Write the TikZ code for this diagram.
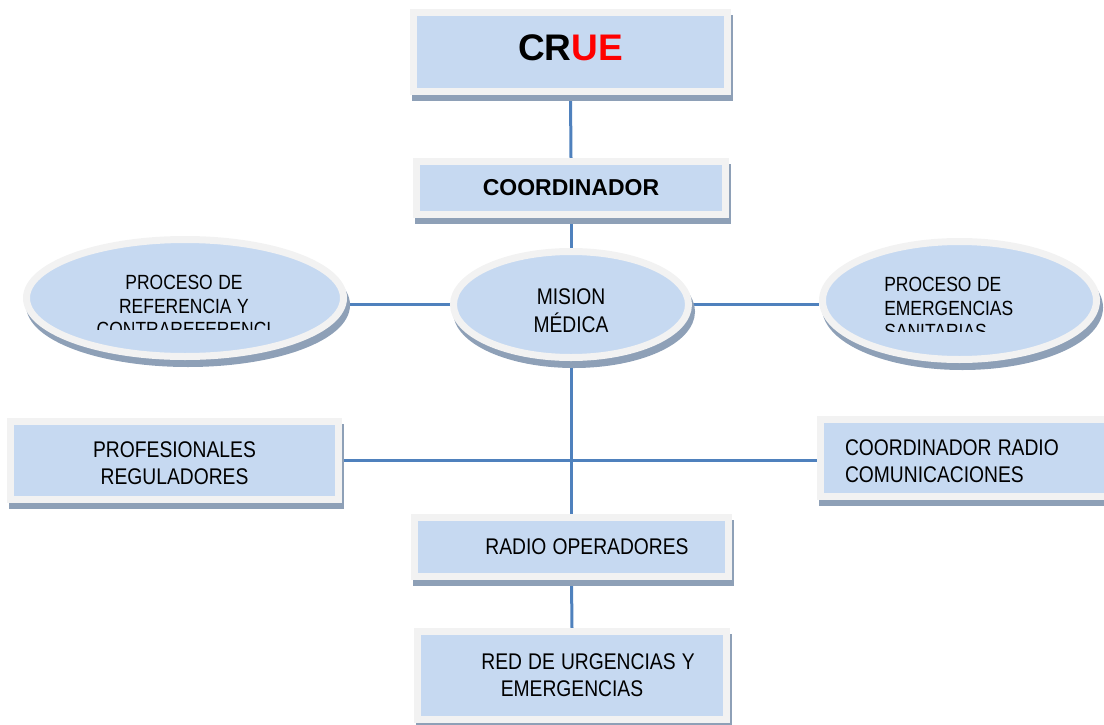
\documentclass[tikz,border=0pt]{standalone}
\usepackage{fontspec}
\setmainfont{Liberation Sans}[FakeStretch=0.85,WordSpace=1.15]
\newfontfamily\widesans{Liberation Sans}
\usetikzlibrary{shapes.geometric,shadows,backgrounds}
\definecolor{linkblue}{HTML}{4F81BD}
\definecolor{cellblue}{HTML}{C6D9F1}
\definecolor{rimgrey}{HTML}{F2F2F2}
\definecolor{shade}{HTML}{8EA0B7}
\definecolor{crered}{HTML}{FF0000}

\begin{document}
\begin{tikzpicture}[x=0.75pt,y=-0.75pt,
  box/.style={rectangle,draw=rimgrey,line width=5.25pt,fill=cellblue,align=flush center,
    drop shadow={shadow xshift=1.5pt,shadow yshift=-4.5pt,fill=shade,draw=shade,opacity=1},
    font=\fontsize{17pt}{20.25pt}\selectfont},
  oval/.style={ellipse,draw=rimgrey,line width=5.25pt,fill=cellblue,inner sep=0pt,
    drop shadow={shadow xshift=2.25pt,shadow yshift=-5.25pt,fill=shade,draw=shade,opacity=1}},
  sidetext/.style={inner sep=0pt,font=\fontsize{15.4pt}{17.6pt}\selectfont},
  link/.style={linkblue,line width=2.25pt}]
\clip[use as bounding box] (0,0) rectangle (1104,725);
% main column
\node[box,minimum width=235.5pt,minimum height=59.25pt,text depth=6.75pt,
  font=\widesans\bfseries\fontsize{27.75pt}{30pt}\selectfont] (crue) at (570.5,52)
  {CR\textcolor{crered}{UE}};
\node[box,minimum width=231.75pt,minimum height=39.75pt,
  font=\widesans\bfseries\fontsize{17.25pt}{20pt}\selectfont] (coord) at (571,188)
  {COORDINADOR};
\node[oval,minimum width=176.25pt,minimum height=79.5pt,align=flush center,
  font=\fontsize{17pt}{21pt}\selectfont] (mision) at (571,304.5)
  {\rule{0pt}{21.2pt}MISION\\MÉDICA};
\node[box,minimum width=235.5pt,minimum height=44.25pt] (radioop) at (571.5,547)
  {\hspace*{23.25pt}RADIO OPERADORES};
\node[box,minimum width=231.75pt,minimum height=66pt] (red) at (572,675.5)
  {\hspace*{24pt}RED DE URGENCIAS Y\\EMERGENCIAS};
% side processes
\node[oval,minimum width=237.75pt,minimum height=87.75pt] (refer) at (185,298) {};
\begin{scope}
  \clip (20,250) rectangle (350,329.5);
  \node[sidetext,align=flush center] (refertxt) at (184,306)
    {PROCESO DE\\REFERENCIA Y\\CONTRAREFERENCI};
\end{scope}
\node[oval,minimum width=205.5pt,minimum height=88.5pt] (emerg) at (959.5,300.5) {};
\begin{scope}
  \clip (830,250) rectangle (1100,331.5);
  \node[sidetext,align=flush left,anchor=west] (emergtxt) at (884,308)
    {PROCESO DE\\EMERGENCIAS\\SANITARIAS};
\end{scope}
% staff
\node[box,minimum width=246pt,minimum height=58.5pt] (prof) at (174.5,460)
  {\rule{0pt}{16.7pt}PROFESIONALES\\REGULADORES};
\node[box,minimum width=246pt,minimum height=57.75pt,align=flush left,
  inner xsep=18.4pt,text width=209.25pt] (radiocoord) at (984.5,458)
  {\rule{0pt}{17.4pt}COORDINADOR RADIO\\COMUNICACIONES};
% connectors
\begin{scope}[on background layer]
\draw[link] (crue.south) -- (coord.north);
\draw[link] (coord.south) -- (mision.north);
\draw[link] (refer.east |- mision.west) -- (mision.west);
\draw[link] (mision.east) -- (mision.east -| emerg.west);
\draw[link] (mision.south) -- (mision.south |- radioop.north);
\draw[link] (prof.east) -- (prof.east -| radiocoord.west);
\draw[link] (radioop.south) -- (red.north);
\end{scope}
\end{tikzpicture}
\end{document}
